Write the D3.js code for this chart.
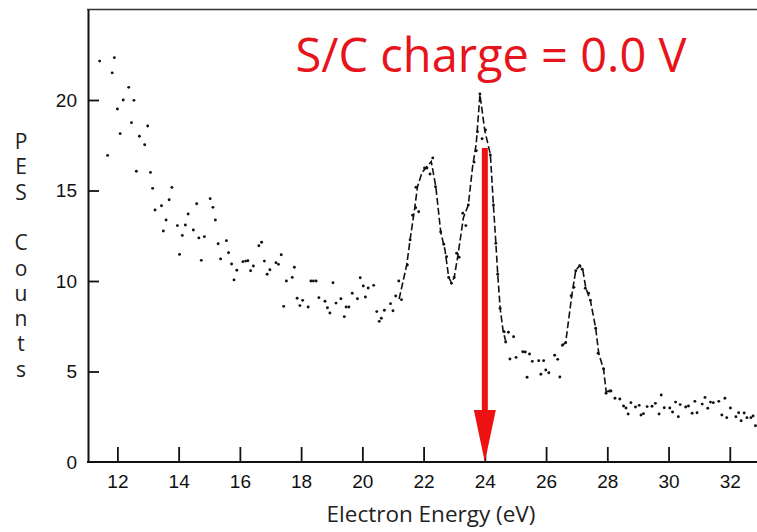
<!doctype html>
<html>
<head>
<meta charset="utf-8">
<script src="https://d3js.org/d3.v7.min.js"></script>
<style>
body { margin: 0; background: #fff; }
</style>
</head>
<body>
<svg id="chart" width="757" height="532"></svg>
<script>
// background spectrum dots (energy eV, counts)
var bgDots = [
[11.42,22.15],[11.68,16.94],[11.83,21.5],[11.9,22.34],[12.0,19.5],[12.09,18.14],[12.19,20.0],[12.37,20.7],
[12.46,18.75],[12.54,19.98],[12.62,16.06],[12.72,18.0],[12.89,17.53],[12.99,18.56],[13.08,16.0],[13.15,15.12],
[13.23,13.92],[13.44,14.16],[13.5,12.76],[13.59,13.37],[13.69,14.49],[13.78,15.17],[13.96,13.06],[14.03,11.47],
[14.12,12.52],[14.22,13.09],[14.31,13.7],[14.48,12.82],[14.59,14.27],[14.66,12.38],[14.74,11.14],[14.84,12.45],
[15.03,14.55],[15.12,14.07],[15.2,13.37],[15.29,12.06],[15.37,11.22],[15.56,12.23],[15.63,11.56],[15.73,10.94],
[15.81,10.06],[15.9,10.59],[16.1,11.07],[16.19,11.1],[16.26,11.12],[16.35,10.57],[16.44,10.83],[16.62,11.95],
[16.71,12.14],[16.8,11.1],[16.89,10.37],[16.98,10.62],[17.18,11.01],[17.26,10.92],[17.35,11.45],[17.43,8.6],
[17.52,10.0],[17.71,10.2],[17.78,10.76],[17.87,9.05],[17.96,8.64],[18.05,8.93],[18.23,8.56],[18.32,10.0],
[18.4,10.0],[18.49,10.0],[18.58,9.08],[18.78,8.88],[18.86,8.52],[18.94,8.23],[19.04,9.9],[19.14,8.78],
[19.3,9.02],[19.41,8.03],[19.47,8.56],[19.56,8.56],[19.67,9.32],[19.84,9.02],[19.93,10.18],[20.03,9.72],
[20.1,9.12],[20.19,9.61],[20.37,9.76],[20.47,8.31],[20.55,7.77],[20.62,7.94],[20.72,8.38],[20.92,8.75],
[21.0,8.36],[21.09,9.17],[21.19,10.0],[21.28,8.97]
];

// dots in the peak region and the tail
var peakDots = [
[21.47,10.88],[21.56,12.27],[21.64,13.63],[21.74,14.05],[21.84,13.83],[21.75,15.18],[22.03,16.24],[22.11,16.24],
[22.21,15.91],[22.3,16.8],[22.39,15.21],[22.56,12.71],[22.66,12.03],[22.75,11.34],[22.82,10.2],[22.91,9.87],
[23.0,10.2],[23.08,11.53],[23.16,11.31],[23.28,13.74],[23.38,13.06],[23.46,14.2],[23.65,16.57],[23.72,17.2],
[23.76,18.25],[23.84,20.33],[23.91,17.86],[24.02,18.34],[24.18,16.96],[24.28,14.2],[24.36,12.08],[24.42,10.37],
[24.5,8.49],[24.63,7.2],[24.68,6.63],[24.77,7.17],[24.94,6.92],[24.82,5.69],[25.02,5.78],[25.24,6.09],
[25.32,6.08],[25.46,5.97],[25.55,5.56],[25.38,4.68],[25.76,5.6],[25.92,5.6],[25.83,4.85],[25.99,5.08],
[26.09,4.93],[26.28,5.9],[26.38,5.67],[26.45,4.7],[26.54,6.46],[26.64,6.59],[26.82,9.19],[26.91,9.65],
[26.97,10.57],[27.1,10.85],[27.18,10.65],[27.28,9.6],[27.39,9.32],[27.45,8.93],[27.62,7.39],[27.7,6.01],
[27.88,5.14],[27.96,3.8],[28.08,3.92],[28.12,3.92],[28.25,3.52],[28.41,3.48],[28.53,3.09],[28.61,2.98],
[28.68,2.65],[28.77,3.28],[28.92,3.04],[29.04,3.13],[29.1,2.6],[29.18,2.67],[29.3,3.06],[29.46,3.08],
[29.57,3.24],[29.69,2.65],[29.76,3.7],[29.86,3.0],[30.04,2.98],[30.13,2.76],[30.23,3.31],[30.32,2.5],
[30.38,3.17],[30.56,3.04],[30.65,3.09],[30.77,2.69],[30.86,3.35],[30.93,2.72],[31.1,3.2],[31.19,3.57],
[31.28,2.97],[31.37,3.31],[31.46,3.28],[31.64,3.35],[31.74,2.6],[31.84,3.52],[31.9,2.45],[32.02,2.98],
[32.2,2.5],[32.29,2.72],[32.37,2.28],[32.47,2.71],[32.56,2.45],[32.69,2.45],[32.76,2.54],[32.84,2.0]
];

// dashed trace through the two peak groups
var traceA = [
[21.2,9.0],[21.45,10.9],[21.56,12.3],[21.7,13.9],[21.8,15.2],[21.95,16.0],[22.1,16.3],[22.25,16.6],
[22.4,15.2],[22.56,12.7],[22.7,11.7],[22.82,10.2],[22.91,9.9],[23.0,10.2],[23.12,11.4],[23.3,13.5],
[23.46,14.2],[23.6,16.3],[23.72,17.6],[23.84,20.3],[24.0,18.3],[24.18,17.0],[24.28,14.2],[24.36,12.1],
[24.42,10.4],[24.5,8.5],[24.6,7.2],[24.68,6.7]
];
var traceB = [
[26.5,6.4],[26.64,6.6],[26.84,9.2],[26.97,10.6],[27.1,10.85],[27.2,10.6],[27.3,9.6],[27.45,8.9],
[27.62,7.4],[27.72,6.0],[27.88,5.1],[27.96,3.9],[28.1,3.9]
];

var xTicks = [12,14,16,18,20,22,24,26,28,30,32];
var yTicks = [0,5,10,15,20];
var arrowEnergy = 24, arrowTop = 17.35;
var titleText = "S/C charge = 0.0 V";
var xTitle = "Electron Energy (eV)";
var yTitle = "PES Counts";

var svg = d3.select("#chart");

var x = d3.scaleLinear().domain([11.04, 33]).range([88, 88 + 21.96 * 30.62]);
var y = d3.scaleLinear().domain([0, 25]).range([462, 9.5]);

// frame top line
svg.append("line")
  .attr("x1", 87).attr("x2", 757)
  .attr("y1", y(25)).attr("y2", y(25))
  .style("stroke", "#333").style("stroke-width", 1.5);

// axes
var xAxis = svg.append("g")
  .attr("transform", "translate(0," + y(0) + ")")
  .call(d3.axisBottom(x).tickValues(xTicks).tickSizeInner(-15).tickSizeOuter(0).tickPadding(10));
xAxis.select(".domain").attr("d", "M87,0H757").style("stroke", "#111").style("stroke-width", 2);

var yAxis = svg.append("g")
  .attr("transform", "translate(" + x(11.04) + ",0)")
  .call(d3.axisLeft(y).tickValues(yTicks).tickSizeInner(-11).tickSizeOuter(0).tickPadding(11));
yAxis.select(".domain").style("stroke", "#111").style("stroke-width", 2);
yAxis.selectAll(".tick").filter(function(d) { return d === 0; }).select("line").remove();

svg.selectAll(".tick line").style("stroke", "#111").style("stroke-width", 1.8);
svg.selectAll(".tick text")
  .style("font-family", "'Liberation Sans', Arial, sans-serif")
  .style("font-size", "19px")
  .style("fill", "#111");
xAxis.selectAll(".tick text").attr("dy", "0.75em").attr("y", 12);
yAxis.selectAll(".tick text").attr("x", -11);

// dashed traces
var line = d3.line()
  .x(function(d) { return x(d[0]); })
  .y(function(d) { return y(d[1]); });

[traceA, traceB].forEach(function(t) {
  svg.append("path")
    .datum(t)
    .attr("d", line)
    .style("fill", "none")
    .style("stroke", "#111")
    .style("stroke-width", 1.6)
    .style("stroke-dasharray", "7,3");
});

// dots
svg.append("g").selectAll("circle")
  .data(bgDots.concat(peakDots))
  .enter().append("circle")
  .attr("cx", function(d) { return x(d[0]); })
  .attr("cy", function(d) { return y(d[1]); })
  .attr("r", 1.45)
  .style("fill", "#111");

// red arrow
var ax = x(arrowEnergy);
svg.append("line")
  .attr("x1", ax).attr("x2", ax)
  .attr("y1", y(arrowTop)).attr("y2", y(0) - 48)
  .style("stroke", "#ee1111").style("stroke-width", 6);
svg.append("path")
  .attr("d", "M" + (ax - 11) + "," + (y(0) - 52) + "L" + (ax + 11) + "," + (y(0) - 52) + "L" + ax + "," + y(0) + "Z")
  .style("fill", "#ee1111");

// title in red
svg.append("text")
  .attr("x", 491).attr("y", 72)
  .attr("text-anchor", "middle")
  .style("font-family", "'Open Sans', sans-serif")
  .style("font-size", "47px")
  .style("fill", "#e8141c")
  .text(titleText);

// x title
svg.append("text")
  .attr("x", 431).attr("y", 522)
  .attr("text-anchor", "middle")
  .style("font-family", "'Open Sans', sans-serif")
  .style("font-size", "22.5px")
  .style("fill", "#222")
  .text(xTitle);

// y title, letters stacked vertically
var yt = svg.append("text")
  .attr("text-anchor", "middle")
  .style("font-family", "'Open Sans', sans-serif")
  .style("font-size", "21px")
  .style("fill", "#222");
yTitle.split("").forEach(function(ch, i) {
  yt.append("tspan")
    .attr("x", 21)
    .attr("y", 149 + i * 25.3)
    .text(ch === " " ? "\u00a0" : ch);
});
</script>
</body>
</html>
